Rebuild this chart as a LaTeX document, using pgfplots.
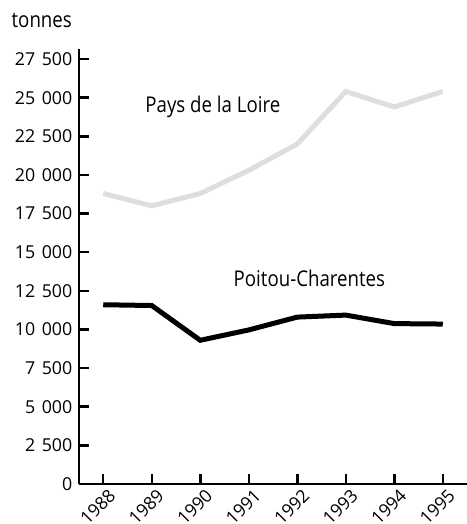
\documentclass[border=0pt]{standalone}
\usepackage{fontspec}
\setmainfont{Open Sans}[FakeStretch=0.86]
\newfontfamily\tickfam{Open Sans}
\usepackage{pgfplots}
\pgfplotsset{compat=1.18}
\definecolor{lightgr}{RGB}{222,222,222}
\newcommand{\tickfont}{\tickfam\fontsize{17.8bp}{20bp}\selectfont}
\newcommand{\labfont}{\fontsize{21.7bp}{24bp}\selectfont}
\begin{document}
\begin{tikzpicture}
\useasboundingbox (-79bp,-40bp) rectangle (388bp,484bp);
\begin{axis}[
  at={(0,0)}, anchor=south west,
  scale only axis, width=388bp, height=435bp,
  xmin=1987.5, xmax=1995.5, ymin=0, ymax=28150,
  axis x line*=bottom, axis y line*=left,
  axis line style={-, line width=2.5bp, black},
  every outer x axis line/.append style={-},
  every outer y axis line/.append style={-},
  xtick={1988,1989,1990,1991,1992,1993,1994,1995},
  xticklabels={1988,1989,1990,1991,1992,1993,1994,1995},
  ytick={0,2500,...,27500},
  scaled y ticks=false,
  tick align=inside,
  major tick length=10bp,
  tick style={line width=2.5bp, black},
  yticklabel style={anchor=east, inner sep=0pt, xshift=-6.5bp, font=\tickfont},
  xticklabel style={xshift=-5.5bp, yshift=-23bp, rotate=45, anchor=center, inner sep=0pt, font=\tickfont},
  /pgf/number format/1000 sep={\hspace{6.5bp}},
  /pgf/number format/assume math mode=true,
  clip=false,
]
\addplot[lightgr, line width=5bp] coordinates {
  (1988,18800) (1989,18000) (1990,18800) (1991,20300)
  (1992,22000) (1993,25400) (1994,24400) (1995,25400)
};
\addplot[black, line width=5bp] coordinates {
  (1988,11600) (1989,11550) (1990,9300) (1991,9970)
  (1992,10800) (1993,10930) (1994,10380) (1995,10350)
};
\node[anchor=base, inner sep=0pt, font=\labfont] at (axis cs:1990.26,24010) {Pays de la Loire};
\node[anchor=base, inner sep=0pt, font=\labfont] at (axis cs:1992.25,12813) {Poitou-Charentes};
\node[anchor=base east, inner sep=0pt, xshift=-7bp, yshift=21.7bp, font=\labfont] at (rel axis cs:0,1) {tonnes};
\end{axis}
\end{tikzpicture}
\end{document}
